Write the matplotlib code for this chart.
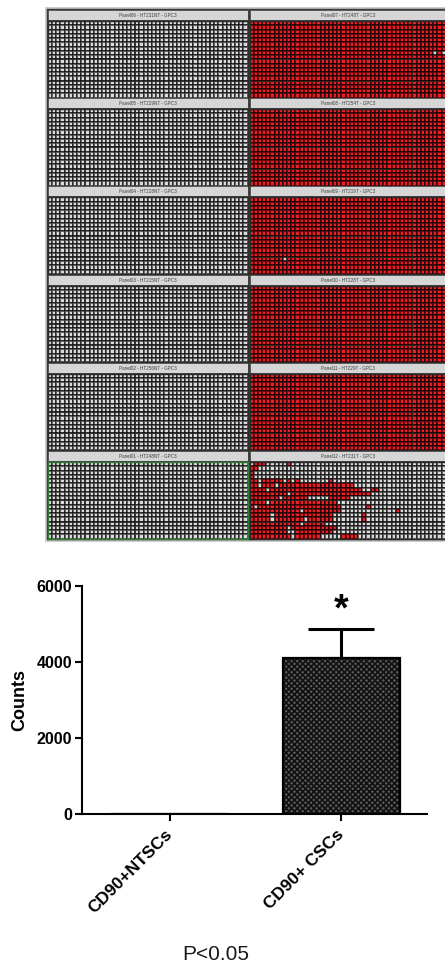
import numpy as np
import matplotlib.pyplot as plt
from matplotlib.colors import ListedColormap
from matplotlib.patches import Rectangle

plt.rcParams['font.family'] = ['Liberation Sans', 'DejaVu Sans']

W, H = 445, 965

# ---- data ----
LEFT_TITLES = ['Panel06 - HT231NT - GPC3', 'Panel05 - HT229NT - GPC3',
               'Panel04 - HT228NT - GPC3', 'Panel03 - HT215NT - GPC3',
               'Panel02 - HT256NT - GPC3', 'Panel01 - HT248NT - GPC3']
RIGHT_TITLES = ['Panel07 - HT248T - GPC3', 'Panel08 - HT254T - GPC3',
                'Panel09 - HT219T - GPC3', 'Panel10 - HT228T - GPC3',
                'Panel11 - HT229T - GPC3', 'Panel12 - HT231T - GPC3']
N_ROWS, N_COLS = 18, 48
THICK_COLS = [9, 21, 39]
THICK_ROWS = [9, 14]

# grey cells inside the otherwise red panels (row, col)
PANEL07_GREY = [(7, 44), (7, 46)]
PANEL09_GREY = [(14, 8)]

# Panel12: red runs (first col, last col) for each row
PANEL12_RED = [
    [(1, 3), (9, 9)],
    [(0, 1)],
    [(0, 0)],
    [(0, 0)],
    [(0, 1), (3, 7), (9, 9), (11, 11), (19, 19)],
    [(0, 1), (3, 5), (7, 24)],
    [(0, 3), (5, 26), (29, 30)],
    [(0, 8), (10, 28)],
    [(0, 6), (8, 13), (19, 23)],
    [(0, 3), (5, 20)],
    [(0, 0), (2, 21), (28, 28)],
    [(0, 11), (13, 21), (35, 35)],
    [(0, 4), (6, 19), (27, 27)],
    [(0, 4), (6, 12), (14, 19), (27, 27)],
    [(0, 11), (13, 17)],
    [(0, 8), (10, 20)],
    [(0, 8), (11, 19)],
    [(0, 9), (11, 16), (22, 25)],
]

GROUPS = ['CD90+NTSCs', 'CD90+ CSCs']
COUNTS = [0, 4110]
SEM = [0, 760]


def box(x0, y0, x1, y1):
    return [x0 / W, 1 - y1 / H, (x1 - x0) / W, (y1 - y0) / H]


def full_red(grey_cells):
    m = np.ones((N_ROWS, N_COLS))
    for r, c in grey_cells:
        m[r, c] = 0
    return m


def from_runs(runs):
    m = np.zeros((N_ROWS, N_COLS))
    for r, row in enumerate(runs):
        for a, b in row:
            m[r, a:b + 1] = 1
    return m


left_mats = [np.zeros((N_ROWS, N_COLS)) for _ in range(6)]
right_mats = [full_red(PANEL07_GREY), full_red([]), full_red(PANEL09_GREY),
              full_red([]), full_red([]), from_runs(PANEL12_RED)]

cmap = ListedColormap(['#dadada', '#f01c24'])

fig = plt.figure(figsize=(W / 100, H / 100), dpi=100)

# dark frame behind the panel grid
fig.patches.append(Rectangle((46 / W, 1 - 541 / H), (455 - 46) / W, (541 - 8) / H,
                             transform=fig.transFigure, facecolor='#3a3a3a',
                             edgecolor='#c4c4c4', linewidth=1.2, zorder=-5))

cols_x = [(48, 247.5), (249.5, 450)]
for k in range(6):
    top = 10 + 88.2 * k
    for j, (titles, mats) in enumerate([(LEFT_TITLES, left_mats), (RIGHT_TITLES, right_mats)]):
        x0, x1 = cols_x[j]
        tax = fig.add_axes(box(x0, top, x1, top + 10))
        tax.set_facecolor('#d6d6d6')
        tax.set_xticks([])
        tax.set_yticks([])
        for s in tax.spines.values():
            s.set_color('#444444')
            s.set_linewidth(0.6)
        tax.text(0.5 if j == 0 else 0.49, 0.45, titles[k], transform=tax.transAxes,
                 ha='center', va='center', fontsize=3.3, color='#404040')

        gax = fig.add_axes(box(x0, top + 11, x1, top + 87.5))
        gax.pcolormesh(mats[k], cmap=cmap, vmin=0, vmax=1,
                       edgecolors=(0, 0, 0, 0.55), linewidth=0.28)
        for c in THICK_COLS:
            gax.axvline(c, color='#2a2a2a', linewidth=0.6)
        for r in THICK_ROWS:
            gax.axhline(r, color='#2a2a2a', linewidth=0.6)
        gax.set_xlim(0, N_COLS)
        gax.set_ylim(N_ROWS, 0)
        gax.set_xticks([])
        gax.set_yticks([])
        edge = '#2e7d32' if (k == 5 and j == 0) else '#2a2a2a'
        for s in gax.spines.values():
            s.set_color(edge)
            s.set_linewidth(1.0)

# ---- bar chart ----
plt.rcParams['hatch.linewidth'] = 1.2
ax = fig.add_axes(box(82, 586, 427, 814))
x = np.arange(len(GROUPS))
ax.bar(x, COUNTS, width=0.68, color='#5a5a5a', edgecolor='#111111',
       hatch='xxxxxx', linewidth=0, zorder=2)
ax.bar(x, COUNTS, width=0.68, fill=False, edgecolor='black', linewidth=1.6, zorder=3)

err_idx = [i for i, e in enumerate(SEM) if e > 0]
ax.errorbar([x[i] for i in err_idx], [COUNTS[i] for i in err_idx],
            yerr=[[0] * len(err_idx), [SEM[i] for i in err_idx]],
            fmt='none', ecolor='black', elinewidth=2.2, capsize=24, capthick=2.2, zorder=1)
for i in err_idx:
    ax.annotate('*', (x[i], COUNTS[i] + SEM[i]), xytext=(0, 0), textcoords='offset points',
                ha='center', va='bottom', fontsize=27, fontweight='bold')

ax.set_xlim(-0.51, 1.5)
ax.set_ylim(0, 6000)
ax.set_yticks([0, 2000, 4000, 6000])
ax.set_xticks(x)
ax.set_xticklabels(GROUPS, rotation=45, ha='right', va='center',
                   rotation_mode='anchor', fontweight='bold', fontsize=12.5)
for lab in ax.get_yticklabels():
    lab.set_fontweight('bold')
    lab.set_fontsize(11.5)
ax.tick_params(axis='both', width=1.5, length=5)
ax.tick_params(axis='x', pad=8)
ax.tick_params(axis='y', pad=2)
ax.spines['top'].set_visible(False)
ax.spines['right'].set_visible(False)
ax.spines['left'].set_linewidth(1.5)
ax.spines['bottom'].set_linewidth(1.5)
ax.set_ylabel('Counts', fontsize=13, fontweight='bold', labelpad=6)

fig.text(216 / W, 1 - 954 / H, 'P<0.05', ha='center', va='center',
         fontsize=15, color='#1a1a1a')

fig.savefig('out.png', dpi=100)
